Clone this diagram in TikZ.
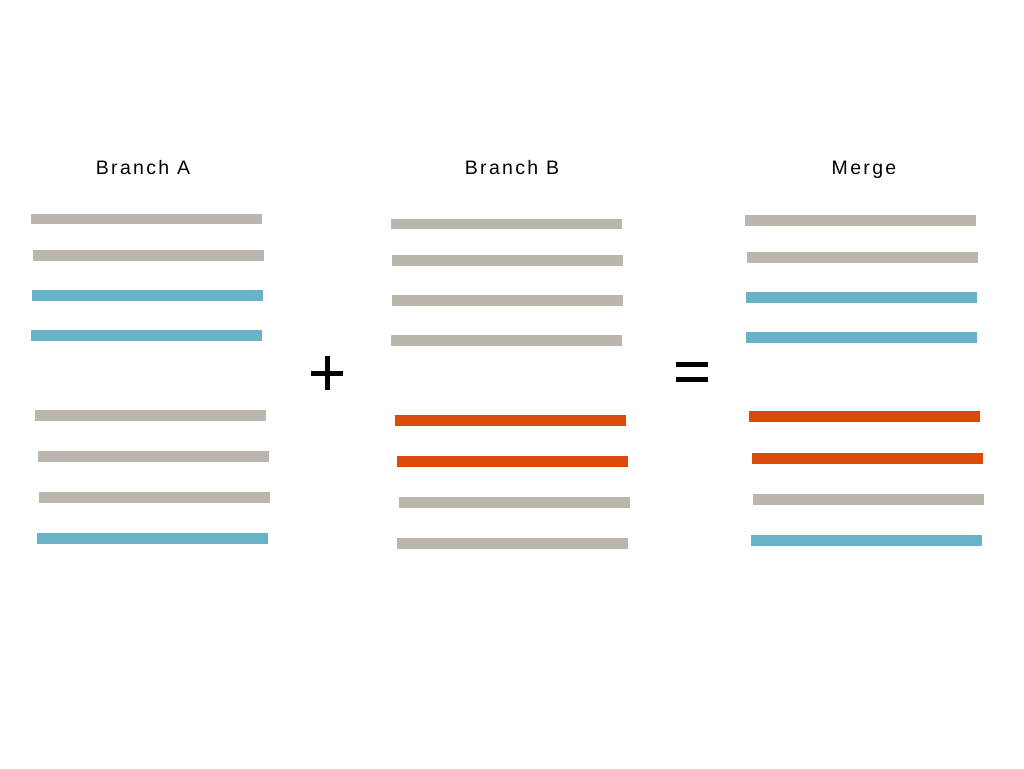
\documentclass[tikz,border=0pt]{standalone}
\usepackage{fontspec}
\setmainfont{Liberation Sans}[LetterSpace=12]
\definecolor{barg}{HTML}{BAB5AD}
\definecolor{barb}{HTML}{68B3C7}
\definecolor{baro}{HTML}{DC4A0A}
\begin{document}
\begin{tikzpicture}[x=1pt,y=-1pt,
  bar/.style={line width=10.5pt},
  lbl/.style={font=\fontsize{19.5}{22}\selectfont, inner sep=0pt, anchor=base},
  op/.style={font=\fontsize{44}{44}\selectfont, inner sep=0pt, anchor=center}]
\useasboundingbox (0,0) rectangle (1024,768);
\node[lbl] (ta) at (143,174) {Branch A};
\node[lbl] (tb) at (512,174) {Branch B};
\node[lbl] (tm) at (864,174) {Merge};
% Branch A
\draw[bar,barg] (31,219) -- (262,219);
\draw[bar,barg] (33,255.5) -- (264,255.5);
\draw[bar,barb] (32,295.5) -- (263,295.5);
\draw[bar,barb] (31,335.5) -- (262,335.5);
\draw[bar,barg] (35,415.5) -- (266,415.5);
\draw[bar,barg] (38,456.5) -- (269,456.5);
\draw[bar,barg] (39,497.5) -- (270,497.5);
\draw[bar,barb] (37,538.5) -- (268,538.5);
% Branch B
\draw[bar,barg] (391,224) -- (622,224);
\draw[bar,barg] (392,260.5) -- (623,260.5);
\draw[bar,barg] (392,300.5) -- (623,300.5);
\draw[bar,barg] (391,340.5) -- (622,340.5);
\draw[bar,baro] (395,420.5) -- (626,420.5);
\draw[bar,baro] (397,461.5) -- (628,461.5);
\draw[bar,barg] (399,502.5) -- (630,502.5);
\draw[bar,barg] (397,543.5) -- (628,543.5);
% Merge
\draw[bar,barg] (745,220.5) -- (976,220.5);
\draw[bar,barg] (747,257.5) -- (978,257.5);
\draw[bar,barb] (746,297.5) -- (977,297.5);
\draw[bar,barb] (746,337.5) -- (977,337.5);
\draw[bar,baro] (749,416.5) -- (980,416.5);
\draw[bar,baro] (752,458.5) -- (983,458.5);
\draw[bar,barg] (753,499.5) -- (984,499.5);
\draw[bar,barb] (751,540.5) -- (982,540.5);
% operators
\draw[line width=5pt] (311,373) -- (343,373) (327,356) -- (327,390);
\draw[line width=5pt] (676,364.5) -- (708,364.5) (676,379) -- (708,379);
\end{tikzpicture}
\end{document}
